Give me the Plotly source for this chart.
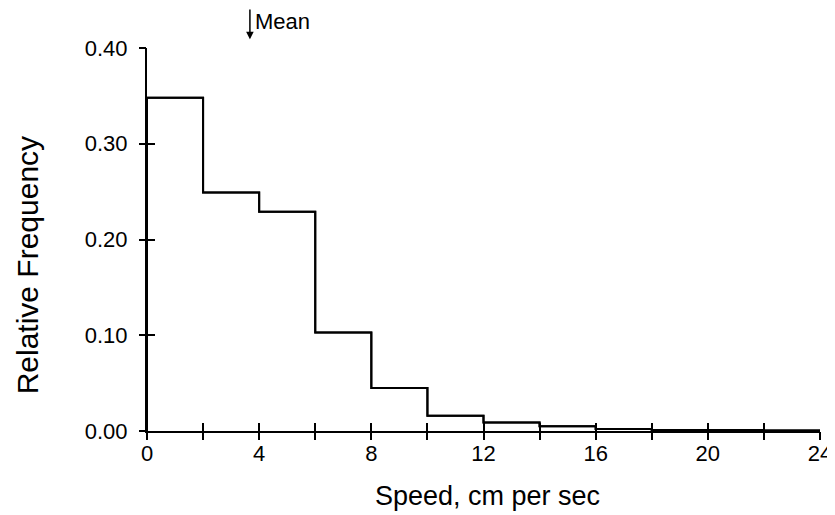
import plotly.graph_objects as go

# Data
bin_edges = [0, 2, 4, 6, 8, 10, 12, 14, 16, 18, 20, 22, 24]
rel_freq = [0.348, 0.249, 0.229, 0.103, 0.045, 0.016, 0.009, 0.005, 0.002, 0.001, 0.001, 0.0005]
mean_speed = 3.67
x_tickvals = [0, 2, 4, 6, 8, 10, 12, 14, 16, 18, 20, 22, 24]
x_ticktext = ["0", "", "4", "", "8", "", "12", "", "16", "", "20", "", "24"]
y_tickvals = [0.0, 0.1, 0.2, 0.3, 0.4]
y_ticktext = ["0.00", "0.10", "0.20", "0.30", "0.40"]

# step outline: start at (0,0), one point per bin start, then close at last edge
step_x = [bin_edges[0]] + bin_edges[:-1] + [bin_edges[-1]]
step_y = [0] + rel_freq + [rel_freq[-1]]

FONT = "Liberation Sans, Arial, Helvetica, sans-serif"

fig = go.Figure()
fig.add_trace(go.Scatter(x=step_x, y=step_y, mode="lines",
                         line=dict(shape="hv", color="black", width=2),
                         hoverinfo="skip", showlegend=False))
# same outline on overlay axes (used to draw the other half of the crossing ticks)
fig.add_trace(go.Scatter(x=step_x, y=step_y, mode="lines", xaxis="x2", yaxis="y2",
                         line=dict(shape="hv", color="black", width=2),
                         hoverinfo="skip", showlegend=False))

axis_common = dict(showgrid=False, zeroline=False, tickwidth=2, tickcolor="black",
                   automargin=False)

# the page body adds an 8px offset, so the figure is 8px smaller on each side
fig.update_layout(
    width=827, height=507,
    margin=dict(l=139, r=15, t=40, b=84, autoexpand=False),
    paper_bgcolor="white", plot_bgcolor="white",
    font=dict(family=FONT, color="black", size=22),
    xaxis=dict(range=[0, 24], tickmode="array", tickvals=x_tickvals, ticktext=x_ticktext,
               ticks="inside", ticklen=8, showline=True, linecolor="black",
               linewidth=2, tickfont=dict(size=22, family=FONT), ticklabelstandoff=2,
               **axis_common),
    yaxis=dict(range=[0, 0.4], tickmode="array", tickvals=y_tickvals, ticktext=y_ticktext,
               ticks="inside", ticklen=8, showline=True, linecolor="black",
               linewidth=2, tickfont=dict(size=22, family=FONT), ticklabelstandoff=13,
               **axis_common),
    xaxis2=dict(range=[0, 24], overlaying="x", anchor="y2", side="bottom",
                tickmode="array", tickvals=x_tickvals, ticks="outside", ticklen=8,
                showticklabels=False, showline=False, **axis_common),
    yaxis2=dict(range=[0, 0.4], overlaying="y", anchor="x2", side="left",
                tickmode="array", tickvals=y_tickvals, ticks="outside", ticklen=7,
                showticklabels=False, showline=False, **axis_common),
    showlegend=False,
)

fig.add_annotation(text="Speed, cm per sec", xref="paper", yref="paper",
                   x=0.506, y=-0.17, xanchor="center", yanchor="middle",
                   showarrow=False, font=dict(size=27, family=FONT))
fig.add_annotation(text="Relative Frequency", xref="paper", yref="paper",
                   x=-0.178, y=0.433, xanchor="center", yanchor="middle", textangle=-90,
                   showarrow=False, font=dict(size=30, family=FONT))
# Mean marker
fig.add_annotation(x=mean_speed, y=1.023, xref="x", yref="paper",
                   text="", showarrow=True, ax=0, ay=-32, axref="pixel", ayref="pixel",
                   arrowhead=2, arrowsize=1, arrowwidth=1.5, arrowcolor="black")
fig.add_annotation(x=mean_speed, y=1.069, xref="x", yref="paper", text="Mean",
                   xanchor="left", yanchor="middle", xshift=3, showarrow=False,
                   font=dict(size=22, family=FONT))

fig.write_html("out.html")
